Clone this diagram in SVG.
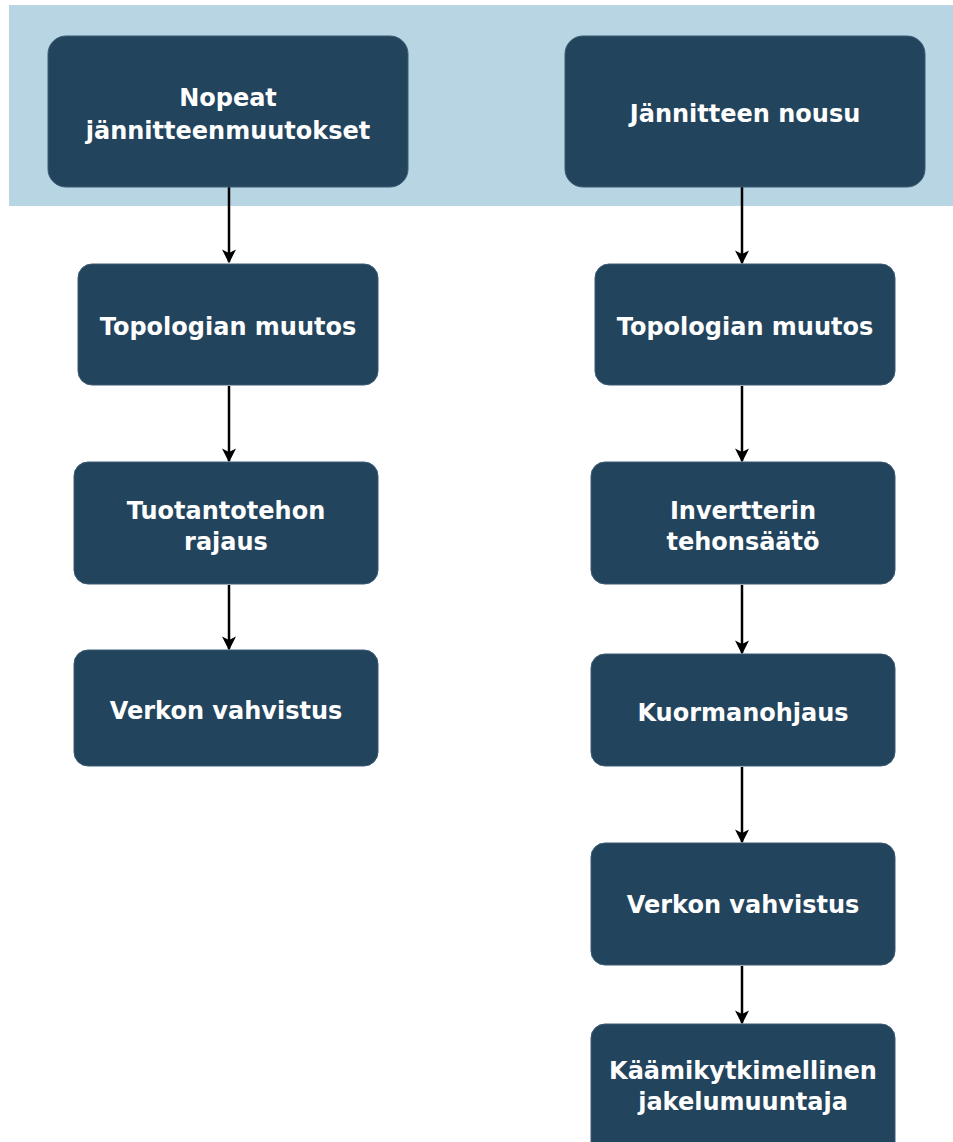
<svg xmlns="http://www.w3.org/2000/svg" width="953" height="1142" viewBox="0 0 953 1142">
<defs>
<style>
.n{fill:#23445d;stroke:#3a5a72;stroke-width:1}
.t{fill:#ffffff;font-family:"DejaVu Sans",Verdana,sans-serif;font-weight:bold;font-size:24px;text-anchor:middle}
.c line{stroke:#000;stroke-width:2.5}
</style>
<marker id="ah" viewBox="0 0 10 10" refX="9" refY="5" markerWidth="5.6" markerHeight="5.6" orient="auto" markerUnits="strokeWidth">
<path d="M0,0 L10,5 L0,10 L2.5,5 Z" fill="#000"/>
</marker>
</defs>
<rect width="953" height="1142" fill="#fff"/>
<rect x="9" y="5" width="944" height="201" fill="#b7d5e2"/>
<g class="c">
<line x1="229" y1="187" x2="229" y2="262" marker-end="url(#ah)"/>
<line x1="229" y1="386" x2="229" y2="461" marker-end="url(#ah)"/>
<line x1="229" y1="585" x2="229" y2="649" marker-end="url(#ah)"/>
<line x1="742" y1="187" x2="742" y2="263" marker-end="url(#ah)"/>
<line x1="742" y1="386" x2="742" y2="461" marker-end="url(#ah)"/>
<line x1="742" y1="585" x2="742" y2="653" marker-end="url(#ah)"/>
<line x1="742" y1="767" x2="742" y2="842" marker-end="url(#ah)"/>
<line x1="742" y1="966" x2="742" y2="1023" marker-end="url(#ah)"/>
</g>
<g id="n1"><rect class="n" x="48" y="36" width="360" height="151" rx="18"/><text class="t" x="228" y="106">Nopeat</text><text class="t" x="228" y="139">jännitteenmuutokset</text></g>
<g id="n2"><rect class="n" x="565" y="36" width="360" height="151" rx="18"/><text class="t" x="745" y="122">Jännitteen nousu</text></g>
<g id="n3"><rect class="n" x="78" y="264" width="300" height="121" rx="14"/><text class="t" x="228" y="335">Topologian muutos</text></g>
<g id="n4"><rect class="n" x="74" y="462" width="304" height="122" rx="14"/><text class="t" x="226" y="519">Tuotantotehon</text><text class="t" x="226" y="550">rajaus</text></g>
<g id="n5"><rect class="n" x="74" y="650" width="304" height="116" rx="14"/><text class="t" x="226" y="719">Verkon vahvistus</text></g>
<g id="n6"><rect class="n" x="595" y="264" width="300" height="121" rx="14"/><text class="t" x="745" y="335">Topologian muutos</text></g>
<g id="n7"><rect class="n" x="591" y="462" width="304" height="122" rx="14"/><text class="t" x="743" y="519">Invertterin</text><text class="t" x="743" y="550">tehonsäätö</text></g>
<g id="n8"><rect class="n" x="591" y="654" width="304" height="112" rx="14"/><text class="t" x="743" y="721">Kuormanohjaus</text></g>
<g id="n9"><rect class="n" x="591" y="843" width="304" height="122" rx="14"/><text class="t" x="743" y="913">Verkon vahvistus</text></g>
<g id="n10"><rect class="n" x="591" y="1024" width="304" height="134" rx="14"/><text class="t" x="743" y="1079">Käämikytkimellinen</text><text class="t" x="743" y="1110">jakelumuuntaja</text></g>
</svg>
